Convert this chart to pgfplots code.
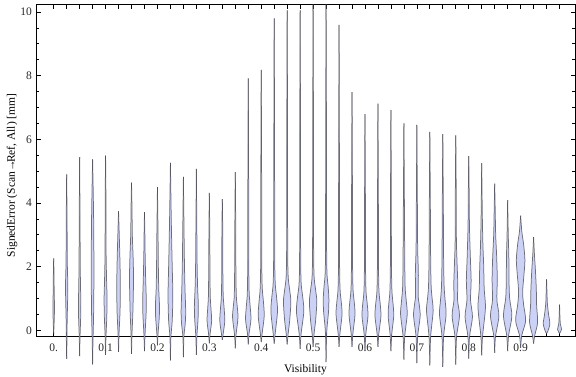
\documentclass[border=0pt]{standalone}
\usepackage{fontspec}
\setmainfont{Liberation Serif}
\usepackage{pgfplots}
\pgfplotsset{compat=1.18}
\usepgfplotslibrary{fillbetween}
\definecolor{vfill}{RGB}{204,210,246}
\definecolor{vedge}{RGB}{70,70,80}
\pgfplotsset{vline/.style={draw=vedge, line width=0.75bp, smooth, tension=0.5, draw opacity=0.75}}
% #1 = bin index (centre = 0.025*#1), #2 = rows "y halfwidth(px)"
\newcommand\violin[2]{%
  \addplot[vline, name path=R#1] table[row sep=\\, x expr={#1*0.025+\thisrow{w}*0.001928}, y=y]{y w\\#2};
  \addplot[vline, name path=L#1] table[row sep=\\, x expr={#1*0.025-\thisrow{w}*0.001928}, y=y]{y w\\#2};
  \addplot[fill=vfill, draw=none] fill between[of=R#1 and L#1];
}
\begin{document}
\begin{tikzpicture}
\begin{axis}[
  set layers,
  scale only axis, width=539bp, height=332.4bp,
  xmin=-0.0341, xmax=1.0048, ymin=-0.2, ymax=10.24,
  clip=false,
  axis line style={line width=0.8bp},
  tick style={black, line width=0.7bp},
  tick align=inside,
  major tick length=4.5bp, minor tick length=2.8bp,
  xtick={0,0.025,...,0.98},
  xticklabels={0.,{},{},{},0.1,{},{},{},0.2,{},{},{},0.3,{},{},{},0.4,{},{},{},0.5,{},{},{},0.6,{},{},{},0.7,{},{},{},0.8,{},{},{},0.9,{},{},{}},
  ytick={0,2,4,6,8,10}, yticklabels={0,2,4,6,8,10},
  minor y tick num=3,
  ticklabel style={font=\fontsize{11.5bp}{13bp}\selectfont, text=black!85},
  xticklabel style={anchor=north, inner sep=0pt, yshift=-6.6bp},
  yticklabel style={anchor=east, inner sep=0pt, xshift=-4bp},
  xlabel={Visibility}, ylabel={SignedError (Scan→\kern-2.5bp Ref, All) [mm]},
  label style={font=\fontsize{11.5bp}{13bp}\selectfont},
  xlabel style={at={(axis description cs:0.5,-0.1)}, anchor=center},
  ylabel style={at={(axis description cs:-0.0445,0.485)}, anchor=center},
]
\violin{0}{-0.1 0\\ 0.2 0.4\\ 0.7 0.8\\ 1.2 0.5\\ 1.8 0.3\\ 2.26 0\\}
\violin{1}{-0.9 0\\ -0.3 0.3\\ 0.3 0.5\\ 1.0 1.0\\ 1.5 1.1\\ 2.2 0.6\\ 3.5 0.4\\ 4.9 0\\}
\violin{2}{-0.81 0\\ -0.2 0.4\\ 0.5 1.1\\ 1.2 1.0\\ 2.0 0.6\\ 3.5 0.4\\ 5.44 0\\}
\violin{3}{-1.07 0\\ -0.3 0.4\\ 0.5 1.0\\ 1.5 1.3\\ 3.0 1.2\\ 4.2 0.7\\ 5.37 0\\}
\violin{4}{-0.77 0\\ -0.2 0.4\\ 0.4 1.2\\ 1.0 1.5\\ 1.6 1.0\\ 2.5 0.5\\ 4.0 0.4\\ 5.49 0\\}
\violin{5}{-0.68 0\\ -0.1 0.5\\ 0.6 1.5\\ 1.4 1.8\\ 2.2 1.4\\ 3.0 0.7\\ 3.74 0\\}
\violin{6}{-0.74 0\\ -0.1 0.5\\ 0.6 1.4\\ 1.6 2.0\\ 2.3 1.6\\ 3.0 0.8\\ 3.8 0.5\\ 4.64 0\\}
\violin{7}{-0.65 0\\ -0.1 0.6\\ 0.5 1.6\\ 0.95 1.8\\ 1.6 1.2\\ 2.3 0.7\\ 3.0 0.4\\ 3.71 0\\}
\violin{8}{-0.47 0\\ -0.1 0.6\\ 0.4 1.8\\ 0.8 2.0\\ 1.3 1.3\\ 2.0 0.9\\ 3.0 0.6\\ 4.5 0\\}
\violin{9}{-0.94 0\\ -0.2 0.5\\ 0.3 1.8\\ 1.1 2.4\\ 2.0 1.8\\ 3.2 1.0\\ 4.2 0.5\\ 5.26 0\\}
\violin{10}{-0.84 0\\ -0.2 0.5\\ 0.2 1.8\\ 0.6 2.3\\ 1.3 1.6\\ 2.2 1.0\\ 3.5 0.5\\ 4.82 0\\}
\violin{11}{-0.77 0\\ -0.15 0.6\\ 0.3 1.6\\ 0.75 2.0\\ 1.4 1.2\\ 2.2 0.7\\ 3.5 0.4\\ 5.07 0\\}
\violin{12}{-0.41 0\\ -0.1 0.8\\ 0.3 2.3\\ 0.7 1.6\\ 1.1 0.9\\ 2.0 0.6\\ 3.2 0.4\\ 4.32 0\\}
\violin{13}{-0.3 0\\ -0.1 0.9\\ 0.3 2.5\\ 0.7 1.8\\ 1.1 0.9\\ 2.0 0.5\\ 3.2 0.4\\ 4.12 0\\}
\violin{14}{-0.57 0\\ -0.15 0.7\\ 0.4 2.7\\ 0.8 1.8\\ 1.1 1.0\\ 2.0 0.6\\ 3.5 0.4\\ 4.97 0\\}
\violin{15}{-0.44 0\\ -0.1 0.8\\ 0.35 2.7\\ 0.8 1.8\\ 1.2 0.9\\ 2.2 0.5\\ 4.5 0.4\\ 7.91 0\\}
\violin{16}{-0.37 0\\ -0.1 0.9\\ 0.45 3.0\\ 0.9 2.2\\ 1.35 1.0\\ 2.3 0.5\\ 5.0 0.4\\ 8.18 0\\}
\violin{17}{-0.42 0\\ -0.1 1.0\\ 0.6 3.3\\ 1.1 2.2\\ 1.5 1.0\\ 2.5 0.5\\ 5.5 0.4\\ 9.8 0\\}
\violin{18}{-0.44 0\\ -0.1 1.0\\ 0.3 2.5\\ 0.9 3.7\\ 1.3 2.4\\ 1.7 1.0\\ 2.7 0.5\\ 6.0 0.4\\ 10.05 0\\}
\violin{19}{-0.58 0\\ -0.1 1.0\\ 0.6 3.7\\ 1.1 2.4\\ 1.5 1.0\\ 2.5 0.5\\ 6.0 0.4\\ 10.05 0\\}
\violin{20}{-0.52 0\\ -0.1 1.0\\ 0.3 2.5\\ 0.9 3.7\\ 1.3 2.4\\ 1.7 1.0\\ 2.7 0.5\\ 6.0 0.4\\ 10.24 0\\}
\violin{21}{-1.0 0\\ -0.3 0.4\\ 0.1 1.0\\ 0.6 2.5\\ 1.0 2.8\\ 1.4 2.0\\ 1.8 0.9\\ 2.8 0.5\\ 6.0 0.4\\ 10.24 0\\}
\violin{22}{-0.52 0\\ -0.1 0.9\\ 0.5 3.0\\ 0.9 2.2\\ 1.3 1.0\\ 2.3 0.5\\ 5.0 0.4\\ 9.59 0\\}
\violin{23}{-0.52 0\\ -0.1 0.9\\ 0.5 3.0\\ 0.9 2.2\\ 1.3 1.0\\ 2.3 0.5\\ 4.5 0.4\\ 7.48 0\\}
\violin{24}{-0.63 0\\ -0.1 0.9\\ 0.45 3.0\\ 0.85 2.2\\ 1.25 1.0\\ 2.2 0.5\\ 4.2 0.4\\ 6.79 0\\}
\violin{25}{-0.52 0\\ -0.1 0.9\\ 0.45 3.0\\ 0.85 2.2\\ 1.25 1.0\\ 2.2 0.5\\ 4.2 0.4\\ 7.12 0\\}
\violin{26}{-0.65 0\\ -0.1 0.9\\ 0.45 2.8\\ 0.85 2.1\\ 1.25 1.0\\ 2.2 0.5\\ 4.2 0.4\\ 6.92 0\\}
\violin{27}{-0.92 0\\ -0.2 0.8\\ 0.5 3.3\\ 0.95 2.3\\ 1.4 1.2\\ 2.5 0.8\\ 4.0 0.5\\ 6.5 0\\}
\violin{28}{-1.03 0\\ -0.2 0.8\\ 0.45 3.3\\ 0.85 2.2\\ 1.1 1.3\\ 1.8 1.5\\ 2.6 0.8\\ 4.0 0.5\\ 6.45 0\\}
\violin{29}{-1.1 0\\ -0.2 0.8\\ 0.6 3.3\\ 1.0 2.3\\ 1.4 1.3\\ 2.3 0.8\\ 4.0 0.5\\ 6.23 0\\}
\violin{30}{-1.15 0\\ -0.2 0.8\\ 0.5 3.3\\ 0.95 2.3\\ 1.4 1.3\\ 2.3 0.8\\ 4.0 0.5\\ 6.16 0\\}
\violin{31}{-1.08 0\\ -0.2 0.8\\ 0.45 3.7\\ 0.95 1.8\\ 1.45 2.0\\ 2.2 1.2\\ 2.9 0.6\\ 4.5 0.4\\ 6.12 0\\}
\violin{32}{-0.89 0\\ -0.2 0.8\\ 0.42 3.7\\ 0.95 1.8\\ 1.55 2.4\\ 2.3 1.6\\ 3.3 0.7\\ 4.4 0.4\\ 5.47 0\\}
\violin{33}{-0.79 0\\ -0.2 0.8\\ 0.7 3.7\\ 1.3 2.5\\ 2.0 2.0\\ 2.7 1.2\\ 3.6 0.6\\ 5.25 0\\}
\violin{34}{-0.71 0\\ -0.2 0.8\\ 0.45 4.2\\ 0.95 2.2\\ 1.6 2.6\\ 2.3 2.0\\ 3.0 1.0\\ 3.8 0.5\\ 4.61 0\\}
\violin{35}{-0.65 0\\ -0.15 1.0\\ 0.45 4.2\\ 1.0 2.0\\ 1.5 1.4\\ 2.3 1.2\\ 3.0 0.6\\ 4.09 0\\}
\violin{36}{-0.55 0\\ -0.15 1.2\\ 0.3 5.0\\ 0.8 3.0\\ 1.2 2.0\\ 1.7 3.2\\ 2.2 4.3\\ 2.7 3.0\\ 3.1 1.2\\ 3.6 0\\}
\violin{37}{-0.42 0\\ -0.15 1.2\\ 0.25 4.0\\ 0.8 3.0\\ 1.3 2.7\\ 1.9 1.8\\ 2.4 0.8\\ 2.93 0\\}
\violin{38}{-0.1 0\\ -0.05 1.0\\ 0.2 3.3\\ 0.5 2.0\\ 0.85 0.8\\ 1.2 0.4\\ 1.6 0\\}
\violin{39}{-0.1 0\\ 0.03 2.0\\ 0.2 0.8\\ 0.5 0.3\\ 0.81 0\\}
\end{axis}
\pgfresetboundingbox
\path[use as bounding box] ([shift={(-36bp,-40.3bp)}]current axis.south west) rectangle ([shift={(1bp,4.3bp)}]current axis.north east);
\end{tikzpicture}
\end{document}
